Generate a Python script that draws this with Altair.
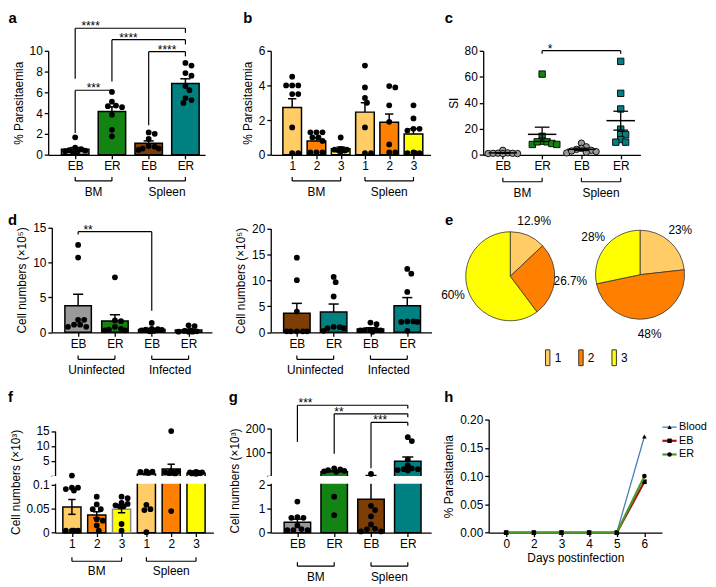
import altair as alt
import numpy as np
import pandas as pd

# =========================== chart values ===========================
# a: % parasitaemia, bars = mean, error = SEM, dots = mice
A_LABELS = ["EB", "ER", "EB", "ER"]
A_GROUPS = ["BM", "Spleen"]
A_MEAN = [0.53, 4.17, 1.12, 6.85]
A_SEM = [0.17, 0.45, 0.22, 0.45]
A_DOTS = [
    [1.68, 0.7, 0.55, 0.45, 0.4, 0.35, 0.25, 0.2],
    [6.04, 5.1, 4.73, 4.67, 4.58, 3.86, 2.4, 1.78],
    [2.15, 2.02, 1.53, 0.84, 0.78, 0.6, 0.6, 0.47],
    [8.82, 8.57, 7.85, 7.6, 6.6, 6.2, 5.45, 5.26, 4.98],
]
# significance: (from, to, bracket height, left foot, right foot, stars, star x)
A_SIG = [
    (0, 3, 12.15, 7.3, 11.7, "****", 0.42),
    (1, 3, 11.05, 7.05, 10.6, "****", 1.45),
    (2, 3, 9.9, 2.85, 9.45, "****", 2.5),
    (0, 1, 6.2, 2.1, 5.85, "***", 0.5),
]

# b
B_LABELS = ["1", "2", "3", "1", "2", "3"]
B_GROUPS = ["BM", "Spleen"]
B_MEAN = [2.72, 0.8, 0.35, 2.46, 1.88, 1.2]
B_SEM = [0.51, 0.17, 0.1, 0.54, 0.47, 0.3]
B_DOTS = [
    [4.5, 4.0, 4.0, 4.0, 3.5, 3.5, 1.58, 0.1, 0.1],
    [1.3, 1.3, 1.3, 1.0, 1.0, 0.8, 0.15, 0.15, 0.15],
    [1.0, 0.35, 0.3, 0.3, 0.3, 0.25, 0.25, 0.2],
    [5.14, 3.88, 3.28, 3.0, 1.58, 0.1, 0.1],
    [3.96, 3.88, 2.85, 1.9, 0.6, 0.15, 0.15],
    [2.85, 2.1, 1.5, 1.5, 1.4, 0.15, 0.1, 0.1, 0.1],
]

# c: SI
C_LABELS = ["EB", "ER", "EB", "ER"]
C_GROUPS = ["BM", "Spleen"]
C_MEAN = [1.5, 15.75, 4.25, 26.25]
C_SEM = [0.3, 5.5, 0.9, 7.25]
C_DOTS = [
    [3.5, 1.5, 1.3, 1.2, 1.0, 1.0, 1.2, 1.0],
    [62.0, 14.25, 10.5, 10.0, 8.75, 8.0, 8.0, 10.0],
    [9.0, 6.2, 5.0, 4.2, 3.5, 2.5, 2.0, 1.5, 3.0],
    [71.75, 47.25, 35.25, 19.75, 15.5, 15.5, 11.75, 9.75, 9.75],
]
C_SIG = [(1, 3, 80, 77.6, 77.6, "*", 1.2)]

# d: cell numbers (x10^5)
D_LABELS = ["EB", "ER", "EB", "ER"]
D_GROUPS = ["Uninfected", "Infected"]
D1_MEAN = [3.82, 1.63, 0.42, 0.33]
D1_SEM = [1.63, 0.89, 0.15, 0.13]
D1_DOTS = [
    [12.5, 10.7, 1.8, 1.8, 1.1, 1.1, 0.8, 0.8],
    [7.87, 1.7, 1.6, 0.8, 0.5, 0.4, 0.3, 0.3],
    [1.35, 0.5, 0.45, 0.4, 0.35, 0.3, 0.2, 0.15],
    [1.0, 0.9, 0.3, 0.2, 0.15, 0.1, 0.1, 0.1],
]
D1_SIG = [(0, 2, 14.4, 14.0, 3.1, "**", 0.27)]
D2_MEAN = [3.7, 3.9, 0.63, 5.14]
D2_SEM = [1.88, 1.55, 0.25, 1.55]
D2_DOTS = [
    [14.36, 10.03, 4.0, 0.2, 0.2, 0.2, 0.2, 0.2],
    [10.66, 9.65, 6.9, 1.07, 1.0, 0.8, 0.8, 0.3],
    [1.88, 1.57, 0.5, 0.5, 0.45, 0.4, 0.4, 0.1],
    [12.2, 11.3, 7.77, 2.1, 2.1, 2.0, 2.0, 0.3],
]

# e: pies (%)
E_CATS = ["1", "2", "3"]
E_LEFT = [12.9, 26.7, 60]
E_RIGHT = [23, 48, 28]

# f: cell numbers (x10^3)
F_LABELS = ["1", "2", "3", "1", "2", "3"]
F_GROUPS = ["BM", "Spleen"]
F_MEAN = [0.0537, 0.037, 0.049, 0.6, 2.3, 0.9]
F_SEM = [0.0155, 0.0065, 0.0075, 0.2, 1.6, 0.08]
F_DOTS = [
    [0.12, 0.094, 0.094, 0.091, 0.088, 0.004, 0.004, 0.004, 0.004],
    [0.075, 0.059, 0.049, 0.049, 0.028, 0.025, 0.015, 0.004],
    [0.075, 0.072, 0.062, 0.06, 0.057, 0.055, 0.055, 0.018, 0.004],
    [1.5, 1.4, 1.3, 1.0, 0.058, 0.049, 0.047, 0.001],
    [15.0, 1.6, 1.4, 1.2, 1.0, 0.9, 0.8, 0.045],
    [1.3, 1.2, 1.2, 1.1, 1.0, 0.9, 0.8, 0.7],
]

# g: cell numbers (x10^3)
G_LABELS = ["EB", "ER", "EB", "ER"]
G_GROUPS = ["BM", "Spleen"]
G_MEAN = [0.435, 18.4, 1.39, 62.5]
G_SEM = [0.13, 4.0, 1.0, 17.5]
G_DOTS = [
    [1.3, 0.65, 0.62, 0.62, 0.3, 0.15, 0.1, 0.1, 0.1],
    [32.0, 28.0, 25.0, 22.0, 20.0, 18.0, 1.5, 0.73],
    [9.0, 1.12, 0.94, 0.68, 0.34, 0.16, 0.14, 0.05, 0.05],
    [163.0, 147.0, 69.0, 45.0, 32.0, 29.0, 29.0, 25.0, 23.0],
]
G_SIG = [
    (0, 3, 297, 143, 283, "***", 0.22),
    (1, 3, 261, 94, 247, "**", 1.13),
    (2, 3, 225, 33, 211, "***", 2.25),
]

# h: % parasitaemia over time
H_DAYS = ["0", "2", "3", "4", "5", "6"]
H_SERIES = ["Blood", "EB", "ER"]
H_BLOOD = [0, 0, 0, 0, 0, 0.17]
H_EB = [0, 0, 0, 0, 0, 0.09]
H_ER = [0, 0, 0, 0, 0, 0.10]

# =========================== styles / layout ===========================
GRAY, GREEN, BROWN, TEAL = "#999999", "#138313", "#7d3e05", "#008080"
LORANGE, ORANGE, YELLOW = "#ffcc66", "#ff8000", "#ffff00"
H_STYLE = {"Blood": ("#4a7ebb", 1.3, "triangle-up"),
           "EB": ("#a31515", 2.2, "square"),
           "ER": ("#4c9a2a", 2.2, "circle")}
FONT = "Liberation Sans"
W, H = 708, 578
SX, SY = 708 / 714, 578 / 585


def X(rx):
    return (rx - 2) * SX


def Y(ry):
    return (ry - 2) * SY


def label_expr(labels):
    expr = "''"
    for i in reversed(range(len(labels))):
        expr = f"datum.value == {i} ? '{labels[i]}' : ({expr})"
    return expr


def x_axis(bottom, labels):
    return alt.Axis(orient="bottom", offset=Y(bottom) - H, values=list(range(len(labels))),
                    labelExpr=label_expr(labels), title=None, labelAngle=0)


def y_axis(left, ticks, title, fmt="~r", blank=None):
    kw = dict(orient="left", offset=-X(left), values=ticks, title=title)
    if blank:
        kw["labelExpr"] = (f"(datum.value > {blank[0]} && datum.value < {blank[1]}) ? '' : "
                           f"format(datum.value, '{fmt}')")
    else:
        kw["format"] = fmt
    return alt.Axis(**kw)


def swarm(vals, center, ux, vy, maxoff, d=5.4, step=2.2):
    """Deterministic beeswarm: horizontal offsets (px) kept within +/- maxoff."""
    placed, out = [], [0.0] * len(vals)
    k = int(maxoff // step)
    cands = [0.0] + [s * i * step for i in range(1, k + 1) for s in (1, -1)]
    for idx in sorted(range(len(vals)), key=lambda j: -vals[j]):
        py = float(vy(vals[idx]))
        chosen, best = None, -1.0
        for c in cands:
            md = min([((c - px) ** 2 + (py - qy) ** 2) ** 0.5 for px, qy in placed] or [1e9])
            if md >= d:
                chosen = c
                break
            if md > best:
                best, chosen_fb = md, c
        if chosen is None:
            chosen = chosen_fb
        placed.append((chosen, py))
        out[idx] = center + chosen / ux
    return out


def sig_layers(sig, xs, ys, xa, ya):
    segs = []
    for (a, b, y, yl, yr, lab, lx) in sig:
        segs += [(a, a, yl, y), (b, b, yr, y), (a, b, y, y)]
    sdf = pd.DataFrame(segs, columns=["xa", "xb", "ya", "yb"])
    ldf = pd.DataFrame([(s[6], s[2], s[5]) for s in sig], columns=["lx", "ly", "lab"])
    rules = alt.Chart(sdf).mark_rule(color="black", strokeWidth=1.2).encode(
        x=alt.X("xa:Q", scale=xs, axis=xa), x2="xb:Q",
        y=alt.Y("ya:Q", scale=ys, axis=ya), y2="yb:Q")
    texts = alt.Chart(ldf).mark_text(fontSize=12, baseline="alphabetic", dy=2).encode(
        x=alt.X("lx:Q", scale=xs, axis=xa), y=alt.Y("ly:Q", scale=ys, axis=ya), text="lab:N")
    return [rules, texts]


def group_layers(groups, n, xs, xa, gy, ty):
    half = n // 2
    spans = [(0, half - 1), (half, n - 1)]
    gdf = pd.DataFrame({"xa": [s[0] for s in spans], "xb": [s[1] for s in spans],
                        "xm": [(s[0] + s[1]) / 2 for s in spans], "label": groups})
    tdf = pd.DataFrame({"xe": [v for s in spans for v in s]})
    line = alt.Chart(gdf).mark_rule(color="black", strokeWidth=1.2).encode(
        x=alt.X("xa:Q", scale=xs, axis=xa), x2="xb:Q", y=alt.value(Y(gy)))
    ticks = alt.Chart(tdf).mark_rule(color="black", strokeWidth=1.2).encode(
        x=alt.X("xe:Q", scale=xs, axis=xa), y=alt.value(Y(gy)), y2=alt.value(Y(gy - 4)))
    txt = alt.Chart(gdf).mark_text(fontSize=12, baseline="middle").encode(
        x=alt.X("xm:Q", scale=xs, axis=xa), y=alt.value(Y(ty)), text="label:N")
    return [line, ticks, txt]


def bar_panel(labels, groups, means, sems, dots, fills, strokes, L, R, xdom, ydom, yrng,
              yticks, ytitle, gy, ty, sig=(), err="up", bar_w=28, cap_w=11, gap=None, blank=None):
    n = len(labels)
    pos = list(range(n))
    xs = alt.Scale(domain=list(xdom), range=[X(L), X(R)], nice=False, zero=False)
    ys = alt.Scale(domain=list(ydom), range=[Y(v) for v in yrng], nice=False, zero=False)
    xa = x_axis(yrng[0], labels)
    ya = y_axis(L, yticks, ytitle, blank=blank)
    ux = (R - L) / (xdom[1] - xdom[0])
    vy = lambda v: np.interp(v, ydom, yrng)
    bdf = pd.DataFrame({"pos": pos, "mean": means, "base": [0] * n, "fill": fills, "stroke": strokes})
    bars = alt.Chart(bdf).mark_bar(size=bar_w * SX, strokeWidth=1.5, orient="vertical").encode(
        x=alt.X("pos:Q", scale=xs, axis=xa),
        y=alt.Y("mean:Q", scale=ys, axis=ya),
        y2="base:Q",
        fill=alt.Fill("fill:N", scale=None), stroke=alt.Stroke("stroke:N", scale=None))
    lo = list(means) if err == "up" else [m - s for m, s in zip(means, sems)]
    hi = [m + s for m, s in zip(means, sems)]
    edf = pd.DataFrame({"pos": pos, "lo": lo, "hi": hi})
    whisk = alt.Chart(edf).mark_rule(color="black", strokeWidth=1.5).encode(
        x=alt.X("pos:Q", scale=xs, axis=xa), y=alt.Y("lo:Q", scale=ys, axis=ya), y2="hi:Q")
    hw = cap_w / 2 / ux
    rows = [(p - hw, p + hw, h) for p, h in zip(pos, hi)]
    if err == "both":
        rows += [(p - hw, p + hw, l) for p, l in zip(pos, lo)]
    cdf = pd.DataFrame(rows, columns=["xa", "xb", "yv"])
    caps = alt.Chart(cdf).mark_rule(color="black", strokeWidth=1.5).encode(
        x=alt.X("xa:Q", scale=xs, axis=xa), x2="xb:Q", y=alt.Y("yv:Q", scale=ys, axis=ya))
    layers = [bars, whisk, caps]
    if gap:
        gdf = pd.DataFrame({"g1": [gap[0]], "g2": [gap[1]]})
        layers.append(alt.Chart(gdf).mark_rect(color="white").encode(
            x=alt.value(X(L) - 3), x2=alt.value(X(R) + 2),
            y=alt.Y("g1:Q", scale=ys, axis=ya), y2="g2:Q"))
    dx, dv = [], []
    for p, vals in zip(pos, dots):
        dx += swarm(vals, p, ux, vy, maxoff=bar_w / 2 - 1.5)
        dv += list(vals)
    ddf = pd.DataFrame({"x": dx, "v": dv})
    layers.append(alt.Chart(ddf).mark_circle(size=34, color="black", opacity=1).encode(
        x=alt.X("x:Q", scale=xs, axis=xa), y=alt.Y("v:Q", scale=ys, axis=ya)))
    if sig:
        layers += sig_layers(sig, xs, ys, xa, ya)
    layers += group_layers(groups, n, xs, xa, gy, ty)
    return alt.layer(*layers)


def scatter_panel(labels, groups, means, sems, dots, fills, shapes, L, R, xdom, ydom, yrng,
                  yticks, ytitle, gy, ty, sig=()):
    n = len(labels)
    pos = list(range(n))
    xs = alt.Scale(domain=list(xdom), range=[X(L), X(R)], nice=False, zero=False)
    ys = alt.Scale(domain=list(ydom), range=[Y(v) for v in yrng], nice=False, zero=False)
    xa = x_axis(yrng[0], labels)
    ya = y_axis(L, yticks, ytitle)
    ux = (R - L) / (xdom[1] - xdom[0])
    vy = lambda v: np.interp(v, ydom, yrng)
    dx, dv, df_, ds_ = [], [], [], []
    for p, vals in zip(pos, dots):
        dx += swarm(vals, p, ux, vy, maxoff=15, d=5.0, step=2.5)
        dv += list(vals)
        df_ += [fills[p]] * len(vals)
        ds_ += [shapes[p]] * len(vals)
    ddf = pd.DataFrame({"x": dx, "v": dv, "fill": df_, "shape": ds_})
    pts = alt.Chart(ddf).mark_point(filled=True, size=42, stroke="black", strokeWidth=0.9, opacity=1).encode(
        x=alt.X("x:Q", scale=xs, axis=xa),
        y=alt.Y("v:Q", scale=ys, axis=ya),
        fill=alt.Fill("fill:N", scale=None), shape=alt.Shape("shape:N", scale=None))
    mw, cw = 14.5 / ux, 7.5 / ux
    mdf = pd.DataFrame({"xa": [p - mw for p in pos], "xb": [p + mw for p in pos], "m": means})
    mean_l = alt.Chart(mdf).mark_rule(color="black", strokeWidth=1.5).encode(
        x=alt.X("xa:Q", scale=xs, axis=xa), x2="xb:Q", y=alt.Y("m:Q", scale=ys, axis=ya))
    edf = pd.DataFrame({"pos": pos, "lo": [m - s for m, s in zip(means, sems)],
                        "hi": [m + s for m, s in zip(means, sems)]})
    whisk = alt.Chart(edf).mark_rule(color="black", strokeWidth=1.3).encode(
        x=alt.X("pos:Q", scale=xs, axis=xa), y=alt.Y("lo:Q", scale=ys, axis=ya), y2="hi:Q")
    rows = [(p - cw, p + cw, v) for p, l, h in zip(pos, edf.lo, edf.hi) for v in (l, h)]
    cdf = pd.DataFrame(rows, columns=["xa", "xb", "yv"])
    caps = alt.Chart(cdf).mark_rule(color="black", strokeWidth=1.3).encode(
        x=alt.X("xa:Q", scale=xs, axis=xa), x2="xb:Q", y=alt.Y("yv:Q", scale=ys, axis=ya))
    layers = [pts, mean_l, whisk, caps]
    if sig:
        layers += sig_layers(sig, xs, ys, xa, ya)
    layers += group_layers(groups, n, xs, xa, gy, ty)
    return alt.layer(*layers)


def pie(vals, cx, cy):
    df = pd.DataFrame({"cat": E_CATS, "pct": vals, "fill": [LORANGE, ORANGE, YELLOW],
                       "lab": [f"{v:g}%" for v in vals]})
    base = alt.Chart(df).encode(theta=alt.Theta("pct:Q", stack=True), order=alt.Order("cat:O"),
                                x=alt.value(X(cx)), y=alt.value(Y(cy)))
    arc = base.mark_arc(radius=45, stroke="#333333", strokeWidth=0.8).encode(
        fill=alt.Fill("fill:N", scale=None))
    txt = base.mark_text(radius=61, fontSize=12).encode(text="lab:N")
    return alt.layer(arc, txt)


def pie_legend():
    df = pd.DataFrame({"cat": E_CATS, "fill": [LORANGE, ORANGE, YELLOW]})
    xs = alt.Scale(type="point", domain=E_CATS, range=[X(552.5), X(620.3)], padding=0)
    sw = alt.Chart(df).mark_point(shape="M-0.28,-1H0.28V1H-0.28Z", filled=True, size=256,
                                  stroke="#333333", strokeWidth=1, opacity=1).encode(
        x=alt.X("cat:N", scale=xs, axis=None), y=alt.value(Y(356.7)),
        fill=alt.Fill("fill:N", scale=None))
    tx = alt.Chart(df).mark_text(align="left", baseline="middle", dx=7, fontSize=12).encode(
        x=alt.X("cat:N", scale=xs, axis=None), y=alt.value(Y(356.7)), text="cat:N")
    return alt.layer(sw, tx)


def line_panel():
    L, R = 492.3, 669
    xs = alt.Scale(domain=H_DAYS, range=[X(L), X(R)], padding=0.634)
    ys = alt.Scale(domain=[0, 0.2], range=[Y(535.7), Y(420)], nice=False, zero=False)
    xa = alt.Axis(orient="bottom", offset=Y(535.7) - H, title="Days postinfection",
                  labelAngle=0, titlePadding=3)
    ya = y_axis(L, [0, 0.05, 0.1, 0.15, 0.2], "% Parasitaemia", fmt=".2f")
    layers = []
    for name, vals in zip(H_SERIES, [H_BLOOD, H_EB, H_ER]):
        col, w, shp = H_STYLE[name]
        df = pd.DataFrame({"day": H_DAYS, "val": vals})
        layers.append(alt.Chart(df).mark_line(color=col, strokeWidth=w).encode(
            x=alt.X("day:O", sort=H_DAYS, scale=xs, axis=xa),
            y=alt.Y("val:Q", scale=ys, axis=ya)))
        layers.append(alt.Chart(df).mark_point(shape=shp, filled=True, color="black", size=22,
                                               opacity=1).encode(
            x=alt.X("day:O", sort=H_DAYS, scale=xs, axis=xa),
            y=alt.Y("val:Q", scale=ys, axis=ya)))
    return alt.layer(*layers)


def line_legend():
    df = pd.DataFrame({"series": H_SERIES,
                       "color": [H_STYLE[s][0] for s in H_SERIES],
                       "sw": [H_STYLE[s][1] for s in H_SERIES],
                       "shape": [H_STYLE[s][2] for s in H_SERIES]})
    ys = alt.Scale(type="point", domain=H_SERIES, range=[Y(427.7), Y(455.7)], padding=0)
    yenc = alt.Y("series:N", scale=ys, axis=None)
    r = alt.Chart(df).mark_rule().encode(
        x=alt.value(X(669.5)), x2=alt.value(X(684)), y=yenc,
        color=alt.Color("color:N", scale=None), strokeWidth=alt.StrokeWidth("sw:Q", scale=None))
    p = alt.Chart(df).mark_point(filled=True, color="black", size=20, opacity=1).encode(
        x=alt.value(X(676.8)), y=yenc, shape=alt.Shape("shape:N", scale=None))
    t = alt.Chart(df).mark_text(align="left", baseline="middle", fontSize=11).encode(
        x=alt.value(X(686.5)), y=yenc, text="series:N")
    return alt.layer(r, p, t)


LETTERS = {"a": (6.7, 14.5), "b": (246.7, 14.5), "c": (451.7, 14.5), "d": (6.7, 220.5),
           "e": (452, 220.5), "f": (4.5, 402), "g": (231.7, 402), "h": (451.7, 402)}


def letters():
    out = []
    for t, (lx, ly) in LETTERS.items():
        out.append(alt.Chart(pd.DataFrame({"t": [t]})).mark_text(
            fontSize=15, fontWeight="bold", baseline="alphabetic", align="center").encode(
            x=alt.value(X(lx)), y=alt.value(Y(ly)), text="t:N"))
    return out


K = "black"
panel_a = bar_panel(A_LABELS, A_GROUPS, A_MEAN, A_SEM, A_DOTS, [GRAY, GREEN, BROWN, TEAL], [K] * 4,
                    43, 203, (-0.6, 3.4), [0, 10], [149, 42.3], [0, 2, 4, 6, 8, 10],
                    "% Parasitaemia", 175.7, 186.7, sig=A_SIG, bar_w=28, cap_w=11)
panel_b = bar_panel(B_LABELS, B_GROUPS, B_MEAN, B_SEM, B_DOTS,
                    [LORANGE, ORANGE, YELLOW] * 2, [K] * 6,
                    270, 433, (-0.68, 5.5), [0, 6], [149, 42.3], [0, 2, 4, 6],
                    "% Parasitaemia", 175.7, 186.7, bar_w=19, cap_w=9)
panel_c = scatter_panel(C_LABELS, C_GROUPS, C_MEAN, C_SEM, C_DOTS, [GRAY, GREEN, GRAY, TEAL],
                        ["circle", "square", "circle", "square"],
                        486.7, 647, (-0.5, 3.5), [0, 80], [149, 42.3], [0, 20, 40, 60, 80],
                        "SI", 176.5, 188, sig=C_SIG)
panel_d1 = bar_panel(D_LABELS, D_GROUPS, D1_MEAN, D1_SEM, D1_DOTS, [GRAY, GREEN, GRAY, GREEN], [K] * 4,
                     46.7, 210, (-0.58, 3.5), [0, 15], [330.7, 223.3], [0, 5, 10, 15],
                     "Cell numbers (×10⁵)", 358.3, 369, sig=D1_SIG, bar_w=27, cap_w=11)
panel_d2 = bar_panel(D_LABELS, D_GROUPS, D2_MEAN, D2_SEM, D2_DOTS, [BROWN, TEAL, BROWN, TEAL], [K] * 4,
                     270, 434, (-0.575, 3.525), [0, 20], [330.7, 224.3], [0, 5, 10, 15, 20],
                     "Cell numbers (×10⁵)", 358.3, 369, bar_w=27, cap_w=11)
panel_f = bar_panel(F_LABELS, F_GROUPS, F_MEAN, F_SEM, F_DOTS, [LORANGE, ORANGE, YELLOW] * 2,
                    [K, K, "#8a8a8a", K, K, K],
                    50, 211.5, (-0.48, 5.5), [0, 0.1, 0.1001, 15], [535.7, 486.7, 477.3, 431.7],
                    [0, 0.05, 0.1, 0.1001, 5, 10, 15], "Cell numbers (×10³)", 565, 575,
                    err="both", bar_w=18.5, cap_w=8, gap=(0.10001, 0.100095), blank=(0.1, 0.2))
panel_g = bar_panel(G_LABELS, G_GROUPS, G_MEAN, G_SEM, G_DOTS, [GRAY, GREEN, BROWN, TEAL], [K] * 4,
                    270, 433.6, (-0.59, 3.5), [0, 2, 2.0001, 200], [535.7, 486.7, 477.3, 429],
                    [0, 1, 2, 2.0001, 100, 200], "Cell numbers (×10³)", 570, 580.7,
                    sig=G_SIG, bar_w=27, cap_w=12, gap=(2.00001, 2.000095), blank=(2, 3))

layers = [panel_a, panel_b, panel_c, panel_d1, panel_d2,
          pie(E_LEFT, 514.3, 273.3), pie(E_RIGHT, 646.7, 271.7), pie_legend(),
          panel_f, panel_g, line_panel(), line_legend()] + letters()

chart = (
    alt.layer(*layers)
    .resolve_scale(x="independent", y="independent", theta="independent")
    .resolve_axis(x="independent", y="independent")
    .properties(width=W, height=H, padding=0, background="white",
                autosize=alt.AutoSizeParams(type="none"))
    .configure_view(stroke=None)
    .configure_axis(domainColor="black", domainWidth=1.3, tickColor="black", tickWidth=1.3,
                    tickSize=4, labelFont=FONT, labelFontSize=12, labelColor="black",
                    titleFont=FONT, titleFontSize=12, titleFontWeight="normal",
                    titleColor="black", labelPadding=2, titlePadding=4, grid=False)
    .configure_text(font=FONT, color="black")
)

chart.save("out.html", embed_options={"renderer": "svg", "actions": False})
